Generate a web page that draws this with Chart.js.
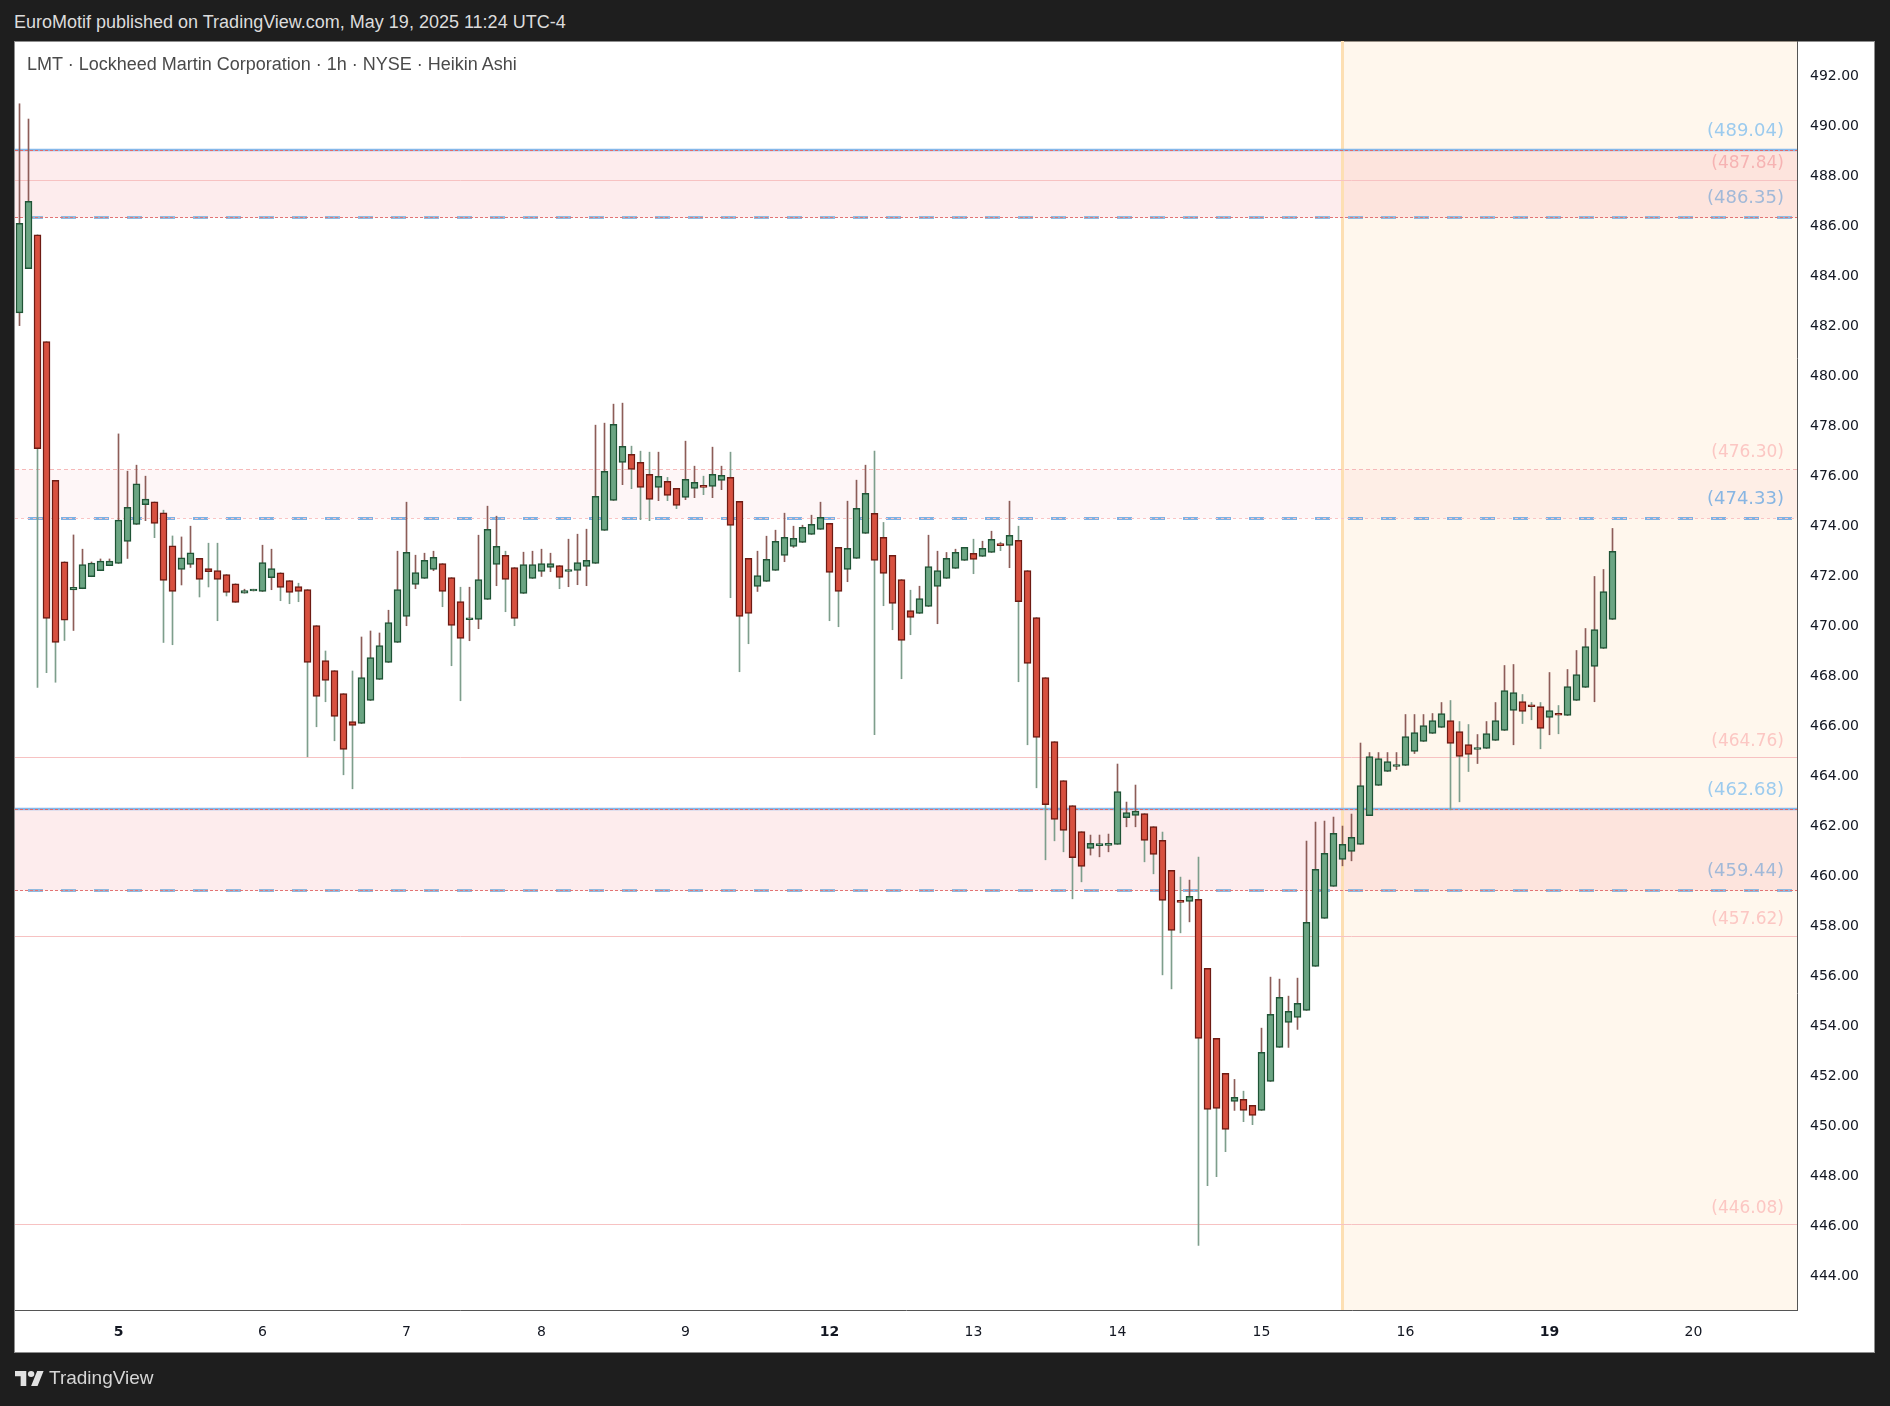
<!DOCTYPE html>
<html>
<head>
<meta charset="utf-8">
<title>LMT 1h Heikin Ashi</title>
<script src="https://cdn.jsdelivr.net/npm/chart.js@4.4.1/dist/chart.umd.min.js"></script>
<style>
  html, body { margin: 0; padding: 0; background: #1e1e1e; }
  body { width: 1890px; height: 1406px; position: relative; overflow: hidden; font-family: "Liberation Sans", Arial, sans-serif; }
  #header { position: absolute; left: 14px; top: 12px; color: #dcdcdc; font-size: 18px; line-height: 20px; white-space: nowrap; }
  #panel { position: absolute; left: 14px; top: 41px; width: 1861px; height: 1312px; background: #fff; box-sizing: border-box; border: 1px solid #8e8e8e; }
  #chart { position: absolute; left: 0; top: 0; }
  #title { position: absolute; left: 27px; top: 54px; color: #4a4a4a; font-size: 18px; line-height: 20px; white-space: nowrap; }
  #footer { position: absolute; left: 15px; top: 1367px; height: 22px; display: flex; align-items: center; color: #d6d6d6; font-size: 19px; }
  #footer svg { margin-right: 5px; }
</style>
</head>
<body>
<div id="header">EuroMotif published on TradingView.com, May 19, 2025 11:24 UTC-4</div>
<div id="panel"></div>
<canvas id="chart" width="1890" height="1406"></canvas>
<div id="title">LMT · Lockheed Martin Corporation · 1h · NYSE · Heikin Ashi</div>
<div id="footer">
  <svg width="29" height="15" viewBox="0 0 36 20" preserveAspectRatio="none"><path fill="#e2e2e2" d="M14 20H7V7H0V0h14v20zM28 20h-8l7.5-20h8L28 20z"/><circle fill="#e2e2e2" cx="20" cy="4" r="4"/></svg>
  <span>TradingView</span>
</div>
<script>
// hourly Heikin Ashi candles, May 2 - May 19 (extended session)
const opens = [
  482.53, 484.30, 485.65, 481.38, 475.83, 472.58, 471.45, 471.50, 471.98, 472.22,
  472.42, 472.51, 473.39, 474.07, 474.86, 474.97, 474.53, 473.21, 472.27, 472.47,
  472.71, 472.31, 472.23, 472.07, 471.70, 471.32, 471.41, 471.39, 471.94, 472.14,
  471.83, 471.59, 471.47, 470.03, 468.63, 468.23, 467.31, 466.19, 466.11, 467.03,
  467.87, 468.55, 469.35, 470.39, 471.67, 471.91, 472.27, 472.51, 471.95, 470.99,
  470.26, 470.27, 471.07, 472.47, 472.83, 472.35, 471.31, 471.91, 472.19, 472.35,
  472.43, 472.19, 472.23, 472.39, 472.51, 473.83, 475.03, 476.55, 476.87, 476.55,
  476.07, 475.55, 475.79, 475.51, 475.15, 475.51, 475.63, 475.59, 475.83, 475.95,
  474.99, 472.71, 471.59, 471.79, 472.23, 472.83, 473.19, 473.35, 473.67, 473.87,
  474.11, 473.15, 472.27, 472.71, 473.71, 474.51, 473.55, 472.83, 471.87, 470.63,
  470.51, 470.79, 471.59, 471.91, 472.31, 472.63, 472.91, 472.79, 472.95, 473.24,
  473.23, 473.43, 472.23, 470.35, 467.95, 465.39, 463.83, 462.83, 461.79, 461.12,
  461.23, 461.24, 461.28, 462.35, 462.44, 462.51, 461.99, 461.44, 460.24, 459.04,
  459.00, 459.08, 456.32, 453.52, 452.12, 451.00, 451.08, 450.84, 450.64, 451.80,
  453.16, 454.16, 454.36, 454.64, 456.40, 458.32, 459.60, 460.68, 461.00, 461.28,
  462.43, 463.63, 464.19, 464.39, 464.43, 464.99, 465.39, 465.71, 465.95, 466.23,
  465.79, 465.27, 465.07, 465.11, 465.43, 465.83, 466.63, 466.99, 466.80, 466.79,
  466.35, 466.46, 466.43, 467.03, 467.55, 468.39, 469.11, 470.27
];
const highs = [
  490.89, 490.28, 485.65, 481.38, 475.83, 472.58, 473.65, 473.08, 472.57, 472.69,
  472.69, 477.69, 476.20, 476.44, 476.00, 474.97, 474.64, 473.61, 473.57, 474.00,
  472.71, 473.32, 473.32, 472.07, 471.70, 471.48, 471.48, 473.24, 473.08, 472.14,
  471.83, 471.72, 471.47, 470.03, 469.01, 468.23, 467.31, 468.21, 469.57, 469.81,
  469.73, 470.64, 473.00, 474.96, 472.84, 472.92, 473.00, 472.51, 471.95, 471.56,
  471.56, 473.64, 474.80, 474.40, 473.00, 472.35, 472.96, 473.00, 473.08, 472.92,
  472.43, 473.48, 473.68, 473.88, 478.04, 478.12, 478.88, 478.92, 477.20, 477.00,
  476.96, 476.96, 475.95, 475.51, 477.40, 476.40, 476.00, 477.16, 476.40, 476.96,
  474.99, 472.71, 473.00, 473.60, 473.84, 474.52, 474.00, 474.04, 474.44, 474.96,
  474.11, 473.15, 475.00, 475.84, 476.44, 477.00, 474.15, 472.83, 471.87, 471.44,
  471.60, 473.64, 473.00, 472.95, 473.08, 473.15, 473.48, 473.40, 473.80, 473.36,
  475.00, 474.00, 472.23, 470.35, 467.95, 465.39, 463.83, 462.83, 461.79, 461.65,
  461.65, 461.69, 464.49, 462.97, 463.65, 462.51, 461.99, 461.77, 460.24, 459.97,
  459.85, 460.77, 456.32, 453.52, 452.12, 451.88, 451.41, 450.84, 453.93, 455.97,
  455.89, 455.21, 455.93, 461.41, 462.17, 462.21, 462.37, 462.01, 462.49, 465.33,
  464.95, 464.95, 464.95, 464.95, 466.47, 466.47, 466.47, 466.51, 466.95, 467.03,
  466.19, 466.07, 465.67, 466.19, 466.95, 468.43, 468.47, 467.27, 466.95, 466.95,
  468.15, 466.83, 468.27, 469.03, 469.91, 471.99, 472.27, 473.91
];
const lows = [
  482.02, 484.30, 467.55, 468.14, 467.76, 469.43, 469.83, 471.50, 471.98, 472.22,
  472.42, 472.51, 472.71, 474.07, 474.22, 473.54, 469.35, 469.26, 471.65, 472.35,
  471.17, 471.57, 470.22, 471.21, 470.95, 471.32, 471.41, 471.39, 471.46, 471.02,
  470.90, 470.98, 464.78, 465.98, 466.98, 465.42, 464.06, 463.50, 466.11, 467.03,
  467.87, 468.55, 469.35, 470.02, 471.50, 471.91, 472.22, 470.78, 468.42, 467.02,
  469.42, 469.90, 471.07, 471.62, 470.58, 470.02, 471.31, 471.91, 471.99, 472.18,
  471.50, 471.58, 471.66, 471.62, 472.51, 473.83, 475.03, 475.66, 475.50, 474.26,
  474.22, 475.02, 475.02, 474.70, 475.06, 475.14, 475.26, 475.14, 475.46, 471.14,
  468.18, 469.30, 471.39, 471.79, 472.23, 472.58, 473.15, 473.35, 473.67, 473.87,
  470.22, 469.98, 471.78, 472.71, 473.71, 465.66, 470.82, 469.86, 467.90, 469.66,
  470.51, 470.79, 470.10, 471.91, 472.31, 472.63, 472.10, 472.79, 472.95, 473.02,
  472.34, 467.78, 465.26, 463.54, 460.66, 461.42, 460.98, 459.10, 459.78, 460.85,
  460.78, 460.98, 461.28, 461.98, 461.98, 460.58, 460.10, 456.06, 455.50, 457.74,
  458.18, 445.24, 447.63, 447.99, 448.99, 450.64, 450.19, 450.07, 450.64, 451.80,
  453.16, 453.16, 453.88, 454.64, 456.40, 458.32, 459.60, 460.42, 460.62, 461.28,
  462.43, 463.63, 464.19, 464.27, 464.43, 464.91, 465.39, 465.71, 465.95, 462.66,
  462.98, 464.19, 464.51, 465.11, 465.43, 465.83, 465.26, 466.11, 466.26, 465.10,
  465.66, 465.70, 466.43, 467.03, 467.55, 466.98, 469.11, 470.27
];
const closes = [
  486.11, 486.99, 477.10, 470.31, 469.35, 470.24, 471.56, 472.47, 472.53, 472.60,
  472.60, 474.24, 474.75, 475.69, 475.08, 474.11, 471.83, 471.39, 472.73, 472.93,
  471.87, 472.18, 471.87, 471.35, 470.95, 471.43, 471.45, 472.55, 472.31, 471.55,
  471.35, 471.39, 468.55, 467.19, 467.83, 466.39, 465.07, 466.03, 467.95, 468.75,
  469.23, 470.15, 471.47, 472.95, 472.15, 472.63, 472.75, 471.39, 470.03, 469.51,
  470.28, 471.87, 473.87, 473.19, 471.87, 470.31, 472.47, 472.47, 472.51, 472.51,
  471.95, 472.27, 472.55, 472.63, 475.19, 476.19, 478.07, 477.19, 476.27, 475.55,
  475.07, 475.99, 475.23, 474.83, 475.87, 475.75, 475.55, 476.07, 476.03, 474.03,
  470.39, 470.51, 472.03, 472.67, 473.39, 473.55, 473.51, 473.95, 474.07, 474.35,
  472.15, 471.39, 473.11, 474.71, 475.31, 472.63, 472.11, 470.91, 469.43, 470.35,
  471.11, 472.39, 472.23, 472.71, 472.95, 473.15, 472.67, 473.11, 473.47, 473.22,
  473.63, 470.98, 468.51, 465.55, 462.87, 462.28, 461.84, 460.75, 460.40, 461.32,
  461.25, 461.32, 463.39, 462.55, 462.61, 461.44, 460.88, 459.04, 457.84, 458.96,
  459.20, 453.52, 450.68, 450.72, 449.88, 451.16, 450.64, 450.44, 452.96, 454.48,
  455.16, 454.60, 454.92, 458.16, 460.28, 460.92, 461.72, 461.28, 461.56, 463.63,
  464.79, 464.71, 464.59, 464.47, 465.59, 465.75, 466.03, 466.23, 466.51, 465.31,
  464.79, 464.87, 465.15, 465.71, 466.23, 467.43, 467.35, 466.59, 466.78, 465.91,
  466.63, 466.44, 467.59, 468.07, 469.19, 469.87, 471.39, 472.99
];

// time axis: bar slots on screen, day labels at the first bar of each day
const slotCount = 198;
const dayIndex = [11, 27, 43, 58, 74, 90, 106, 122, 138, 154, 170, 186];
const dayText = ['5', '6', '7', '8', '9', '12', '13', '14', '15', '16', '19', '20'];
const weekStarts = ['5', '12', '19'];
const sessionStartIndex = 147;

const priceTicks = [444, 446, 448, 450, 452, 454, 456, 458, 460, 462, 464, 466, 468,
  470, 472, 474, 476, 478, 480, 482, 484, 486, 488, 490, 492];
const priceMin = 442.66;
const priceMax = 493.40;

// drawn levels
const zoneTops = [489.04, 462.68];
const zoneBottoms = [486.35, 459.44];
const keyLevel = 474.33;
const keyLevelTop = 476.30;
const pinkLevels = [487.84, 464.76, 457.62, 446.08];

const UP_FILL = '#6ba583', UP_LINE = '#1f5436', UP_WICK = '#8d5d58';
const DN_FILL = '#d8503f', DN_LINE = '#6e1b13', DN_WICK = '#7e9e8c';

const xLabels = [];
for (let i = 0; i < slotCount; i++) {
  const k = dayIndex.indexOf(i);
  xLabels.push(k >= 0 ? dayText[k] : '');
}

const isUp = closes.map((c, i) => c >= opens[i]);
const wickData = lows.map((l, i) => [l, highs[i]]);
const bodyData = opens.map((o, i) => [o, closes[i]]);

function hline(ctx, area, y, color, width, dash, offset) {
  ctx.beginPath();
  ctx.strokeStyle = color;
  ctx.lineWidth = width;
  ctx.setLineDash(dash || []);
  ctx.lineDashOffset = offset || 0;
  ctx.moveTo(area.left, y);
  ctx.lineTo(area.right, y);
  ctx.stroke();
}

const levelsPlugin = {
  id: 'levels',
  beforeDatasetsDraw(chart) {
    const { ctx, chartArea: a, scales } = chart;
    const x = scales.x, y = scales.y;
    const py = v => Math.round(y.getPixelForValue(v)) + 0.5;
    ctx.save();
    ctx.beginPath();
    ctx.rect(a.left, a.top, a.right - a.left, a.bottom - a.top);
    ctx.clip();

    // session shading
    const sx = x.getPixelForValue(sessionStartIndex);
    ctx.fillStyle = 'rgba(255, 145, 0, 0.07)';
    ctx.fillRect(sx, a.top, a.right - sx, a.bottom - a.top);

    // zones
    ctx.fillStyle = 'rgba(232, 70, 78, 0.1)';
    zoneTops.forEach((t, k) => {
      const y1 = py(t), y2 = py(zoneBottoms[k]);
      ctx.fillRect(a.left, y1, a.right - a.left, y2 - y1);
    });
    ctx.fillStyle = 'rgba(242, 54, 69, 0.045)';
    ctx.fillRect(a.left, py(keyLevelTop), a.right - a.left, py(keyLevel) - py(keyLevelTop));

    // session start line
    ctx.fillStyle = '#fddfb3';
    ctx.fillRect(sx - 1.5, a.top, 3, a.bottom - a.top);

    // thin pink levels
    pinkLevels.forEach(v => hline(ctx, a, py(v), '#f7c2c2', 1));
    hline(ctx, a, py(keyLevelTop), '#f6b9b9', 1, [4, 3]);

    // zone edges
    zoneTops.forEach(v => {
      hline(ctx, a, py(v) - 0.5, '#86b8ea', 2.5);
      hline(ctx, a, py(v), '#e06a6a', 1, [3, 2]);
    });
    zoneBottoms.forEach(v => {
      hline(ctx, a, py(v), '#93badf', 3, [15, 18], 20);
      hline(ctx, a, py(v), '#e27474', 1, [3, 2]);
    });
    hline(ctx, a, py(keyLevel), '#7fb1e3', 3, [15, 18], 20);
    hline(ctx, a, py(keyLevel), '#f9c4c4', 1, [3, 3]);
    ctx.restore();
  },
  afterDatasetsDraw(chart) {
    const { ctx, chartArea: a, scales } = chart;
    const y = scales.y;
    const blue = [[zoneTops[0], '#9ccbee'], [zoneBottoms[0], '#a2b9d8'], [keyLevel, '#88b6e3'],
      [zoneTops[1], '#9ccbee'], [zoneBottoms[1], '#a2b9d8']];
    const pink = [[pinkLevels[0], '#f6b3b3'], [keyLevelTop, '#fcc7c3'], [pinkLevels[1], '#fcc7c3'],
      [pinkLevels[2], '#fcc7c3'], [pinkLevels[3], '#fcc7c3']];
    ctx.save();
    ctx.textAlign = 'right';
    ctx.textBaseline = 'middle';
    ctx.font = '18px "DejaVu Sans"';
    blue.forEach(([v, color]) => {
      ctx.fillStyle = color;
      ctx.fillText('(' + v.toFixed(2) + ')', a.right - 13, y.getPixelForValue(v) - 19);
    });
    ctx.font = '17px "DejaVu Sans"';
    pink.forEach(([v, color]) => {
      ctx.fillStyle = color;
      ctx.fillText('(' + v.toFixed(2) + ')', a.right - 13, y.getPixelForValue(v) - 16);
    });
    ctx.restore();
  }
};

new Chart(document.getElementById('chart'), {
  type: 'bar',
  data: {
    labels: xLabels,
    datasets: [
      {
        label: 'wick',
        data: wickData,
        backgroundColor: isUp.map(u => u ? UP_WICK : DN_WICK),
        borderWidth: 0,
        barThickness: 1,
        grouped: false,
        order: 2
      },
      {
        label: 'body',
        data: bodyData,
        backgroundColor: isUp.map(u => u ? UP_FILL : DN_FILL),
        borderColor: isUp.map(u => u ? UP_LINE : DN_LINE),
        borderWidth: 1.5,
        borderSkipped: false,
        barThickness: 7,
        minBarLength: 2,
        grouped: false,
        order: 1
      }
    ]
  },
  options: {
    responsive: false,
    devicePixelRatio: 1,
    animation: false,
    layout: { padding: { left: 15, top: 41, right: 16, bottom: 55 } },
    plugins: {
      legend: { display: false },
      tooltip: { enabled: false }
    },
    scales: {
      x: {
        grid: { display: false, drawTicks: false },
        border: { display: true, color: '#555555', width: 1 },
        afterFit: s => { s.height = 41; },
        ticks: {
          autoSkip: false,
          maxRotation: 0,
          padding: 14,
          color: '#131722',
          font: ctx => ({
            family: 'DejaVu Sans',
            size: 14,
            weight: weekStarts.includes(xLabels[ctx.index]) ? 'bold' : 'normal'
          })
        }
      },
      y: {
        position: 'right',
        min: priceMin,
        max: priceMax,
        grid: { display: false, drawTicks: false },
        border: { display: true, color: '#555555', width: 1 },
        afterFit: s => { s.width = 77; },
        afterBuildTicks: s => { s.ticks = priceTicks.map(v => ({ value: v })); },
        ticks: {
          padding: 13,
          color: '#131722',
          font: { family: 'DejaVu Sans', size: 14 },
          callback: v => Number(v).toFixed(2)
        }
      }
    }
  },
  plugins: [levelsPlugin]
});
</script>
</body>
</html>
